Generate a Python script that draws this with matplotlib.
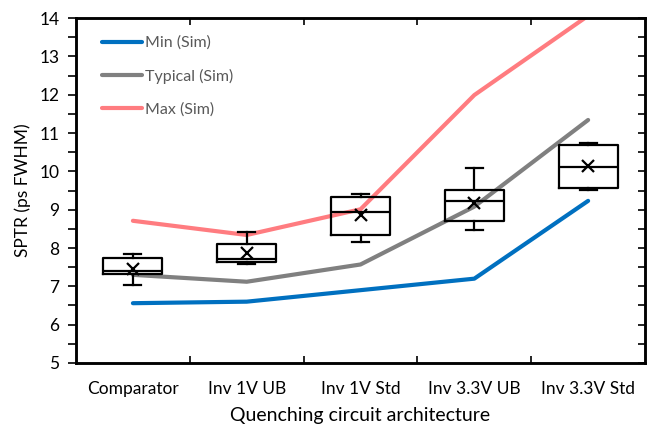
import matplotlib
matplotlib.use("Agg")
import matplotlib.pyplot as plt

plt.rcParams['font.family'] = ['Lato', 'DejaVu Sans']

categories = ["Comparator", "Inv 1V UB", "Inv 1V Std", "Inv 3.3V UB", "Inv 3.3V Std"]

# Simulated SPTR curves
sim_min = [6.56, 6.60, 6.90, 7.20, 9.23]
sim_typ = [7.30, 7.12, 7.57, 9.08, 11.34]
sim_max = [8.71, 8.34, 9.01, 11.99, 14.06]

# Measured distributions (box statistics)
whisker_low = [7.03, 7.57, 8.16, 8.47, 9.51]
q1 = [7.33, 7.63, 8.33, 8.70, 9.56]
median = [7.40, 7.71, 8.95, 9.23, 10.12]
q3 = [7.75, 8.10, 9.32, 9.51, 10.68]
whisker_high = [7.84, 8.41, 9.41, 10.10, 10.73]
mean = [7.45, 7.86, 8.87, 9.17, 10.14]

fig = plt.figure(figsize=(6.48, 4.25), dpi=100)
ax = fig.add_axes([0.1173, 0.1459, 0.8781, 0.8117])

x = list(range(len(categories)))
ax.plot(x, sim_min, color="#0070C0", lw=3.0, label="Min (Sim)", solid_capstyle="round", zorder=2)
ax.plot(x, sim_typ, color="#808080", lw=3.0, label="Typical (Sim)", solid_capstyle="round", zorder=2)
ax.plot(x, sim_max, color="#FF7C80", lw=3.0, label="Max (Sim)", solid_capstyle="round", zorder=2)

stats = []
for i in range(len(categories)):
    stats.append(dict(med=median[i], q1=q1[i], q3=q3[i],
                      whislo=whisker_low[i], whishi=whisker_high[i],
                      mean=mean[i], fliers=[]))
black = dict(color="black", linewidth=1.6)
ax.bxp(stats, positions=x, widths=0.52, capwidths=0.15, showmeans=True,
       showfliers=False, patch_artist=False,
       boxprops=black, whiskerprops=black, capprops=black, medianprops=black,
       meanprops=dict(marker="x", markeredgecolor="black", markersize=9,
                      markeredgewidth=1.6),
       manage_ticks=False, zorder=3)

ax.set_xlim(-0.5, len(categories) - 0.5)
ax.set_ylim(5, 14)

# category boundaries as ticks, names as minor ticks
ax.set_xticks([i + 0.5 for i in range(len(categories) - 1)])
ax.set_xticklabels([])
ax.set_xticks(x, minor=True)
ax.set_xticklabels(categories, minor=True, fontsize=12.5)
ax.tick_params(axis="x", which="major", direction="in", top=True, bottom=True,
               length=5, width=1.2)
ax.tick_params(axis="x", which="minor", length=0, pad=13)

ax.set_yticks(range(5, 15))
ax.set_yticks([v + 0.5 for v in range(5, 14)], minor=True)
ax.tick_params(axis="y", which="both", direction="out", length=6, width=1.2,
               labelsize=12.5, pad=6)

ax2 = ax.twinx()
ax2.set_ylim(5, 14)
ax2.set_yticks(range(5, 15))
ax2.set_yticks([v + 0.5 for v in range(5, 14)], minor=True)
ax2.tick_params(axis="y", which="both", direction="in", length=5, width=1.2,
                labelright=False)

for a in (ax, ax2):
    for s in a.spines.values():
        s.set_linewidth(1.8)

ax.set_ylabel("SPTR (ps FWHM)", fontsize=12.5, labelpad=6)
ax.set_xlabel("Quenching circuit architecture", fontsize=14, labelpad=7)

leg = ax.legend(loc="upper left", frameon=False, fontsize=11.5,
                labelcolor="#595959", handlelength=2.5, handletextpad=0.2,
                labelspacing=1.15, bbox_to_anchor=(0.02, 0.99))

fig.savefig("out.png", dpi=100)
